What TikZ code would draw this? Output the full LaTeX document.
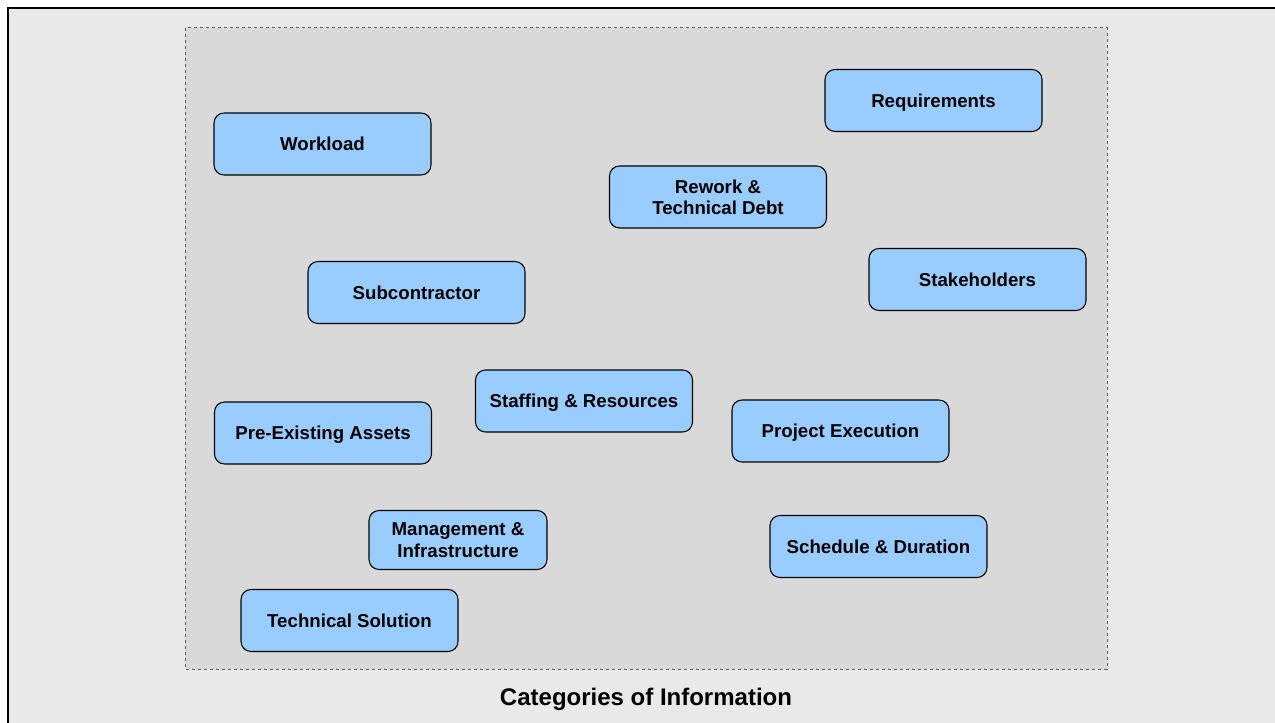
\documentclass[tikz,border=0pt]{standalone}
\usepackage{fontspec}
\setmainfont{Liberation Sans}
\usepackage{xcolor}
\usetikzlibrary{positioning}
\definecolor{paleblue}{HTML}{99CCFF}
\definecolor{outergrey}{HTML}{E9E9E9}
\definecolor{innergrey}{HTML}{D9D9D9}
\definecolor{dashgrey}{HTML}{5A5A5A}

\begin{document}
\begin{tikzpicture}[
  x=0.75pt, y=-0.75pt,
  every node/.style={font=\fontsize{14}{16}\selectfont\bfseries},
  category/.style={rectangle, rounded corners=7.5pt, draw=black, line width=0.8pt, fill=paleblue, minimum width=162.75pt, minimum height=46.5pt, align=center, inner sep=2pt},
  oneline/.style={category, text height=10pt, text depth=0pt},
  smallcat/.style={category, minimum width=133.5pt, minimum height=44.25pt}
]

\useasboundingbox (0,0) rectangle (1275,723);
\clip (0,0) rectangle (1275,723);
\draw[line width=2.2pt, fill=outergrey] (8,8) rectangle (1300,760);
\draw[dashgrey, line width=0.75pt, dash pattern=on 2.5pt off 2pt, fill=innergrey] (185,28) rectangle (1107,669);

\node[oneline] (workload) at (322.5,144) {Workload};
\node[oneline] (reqs) at (933.5,100.5) {Requirements};
\node[category] (rework) at (718,197) {Rework \&\\Technical Debt};
\node[oneline] (subcon) at (416.5,292.5) {Subcontractor};
\node[oneline] (stake) at (977.5,279.5) {Stakeholders};
\node[oneline] (staffing) at (584,401) {Staffing \& Resources};
\node[oneline] (assets) at (323,433) {Pre-Existing Assets};
\node[oneline] (execution) at (840.5,431) {Project Execution};
\node[smallcat] (mgmt) at (458,540) {Management \&\\Infrastructure};
\node[oneline] (schedule) at (878.5,546.5) {Schedule \& Duration};
\node[oneline] (techsol) at (349.5,620.5) {Technical Solution};

\node[font=\fontsize{18}{20}\selectfont\bfseries, text height=12.9pt, text depth=0pt] (title) at (646,697) {Categories of Information};

\end{tikzpicture}
\end{document}
